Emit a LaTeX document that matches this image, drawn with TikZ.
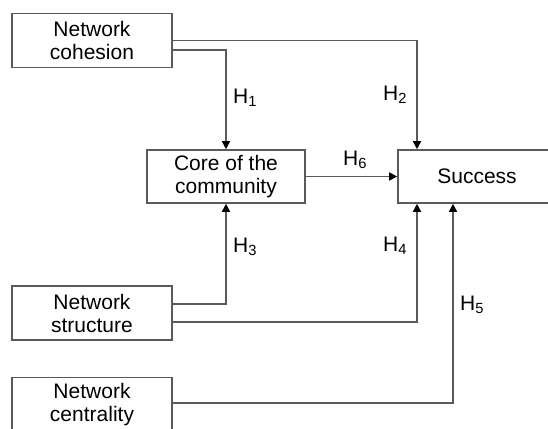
\documentclass[tikz,border=0pt]{standalone}
\usepackage{fontspec}
\setmainfont{Liberation Sans}
\usepackage{xcolor}
\usetikzlibrary{arrows.meta}
\definecolor{linegray}{RGB}{90,90,90}

\tikzset{
  factor/.style={draw=linegray, line width=1.6pt, minimum width=160pt,
    minimum height=54pt, align=center, inner sep=0pt,
    font=\fontsize{21}{23}\selectfont},
  path/.style={draw=linegray, line width=1.6pt},
  link/.style={path, -{Triangle[length=8pt,width=8pt,fill=black,color=black]}},
  hyp/.style={anchor=base west, inner sep=0pt, font=\fontsize{21}{23}\selectfont}
}

\begin{document}
\begin{tikzpicture}[x=1pt,y=-1pt]
\useasboundingbox (0,0) rectangle (548,428);
\clip (0,0) rectangle (548,428);
\fill[white] (0,0) rectangle (548,428);
\node[factor] (coh) at (92,40.5) {Network\\cohesion};
\node[factor, minimum width=158pt, minimum height=53pt] (core) at (226,176.5) {Core of the\\community};
\node[factor, minimum width=158pt, minimum height=53pt] (succ) at (477,176.5) {Success};
\node[factor] (str) at (92,313) {Network\\structure};
\node[factor] (cen) at (92,404.5) {Network\\centrality};
\coordinate (s2) at (417,0);
\coordinate (s4) at (417,0);
\coordinate (s5) at (453,0);
% arrows into core
\draw[link] ([yshift=-9.5pt]coh.east) -| (core.north);
\draw[link] ([yshift=9pt]str.east) -| (core.south);
% arrows into success
\draw[link] (coh.east) -| (s2 |- succ.north);
\draw[link] (core.east) -- (succ.west);
\draw[link] ([yshift=-9pt]str.east) -| (s4 |- succ.south);
\draw[link] ([yshift=1.5pt]cen.east) -| (s5 |- succ.south);
% labels
\node[hyp] (h1) at (233,103) {H\textsubscript{1}};
\node[hyp] (h2) at (383,100) {H\textsubscript{2}};
\node[hyp] (h3) at (233,252) {H\textsubscript{3}};
\node[hyp] (h4) at (383,251) {H\textsubscript{4}};
\node[hyp] (h5) at (460,310) {H\textsubscript{5}};
\node[hyp] (h6) at (343,165) {H\textsubscript{6}};
\end{tikzpicture}
\end{document}
